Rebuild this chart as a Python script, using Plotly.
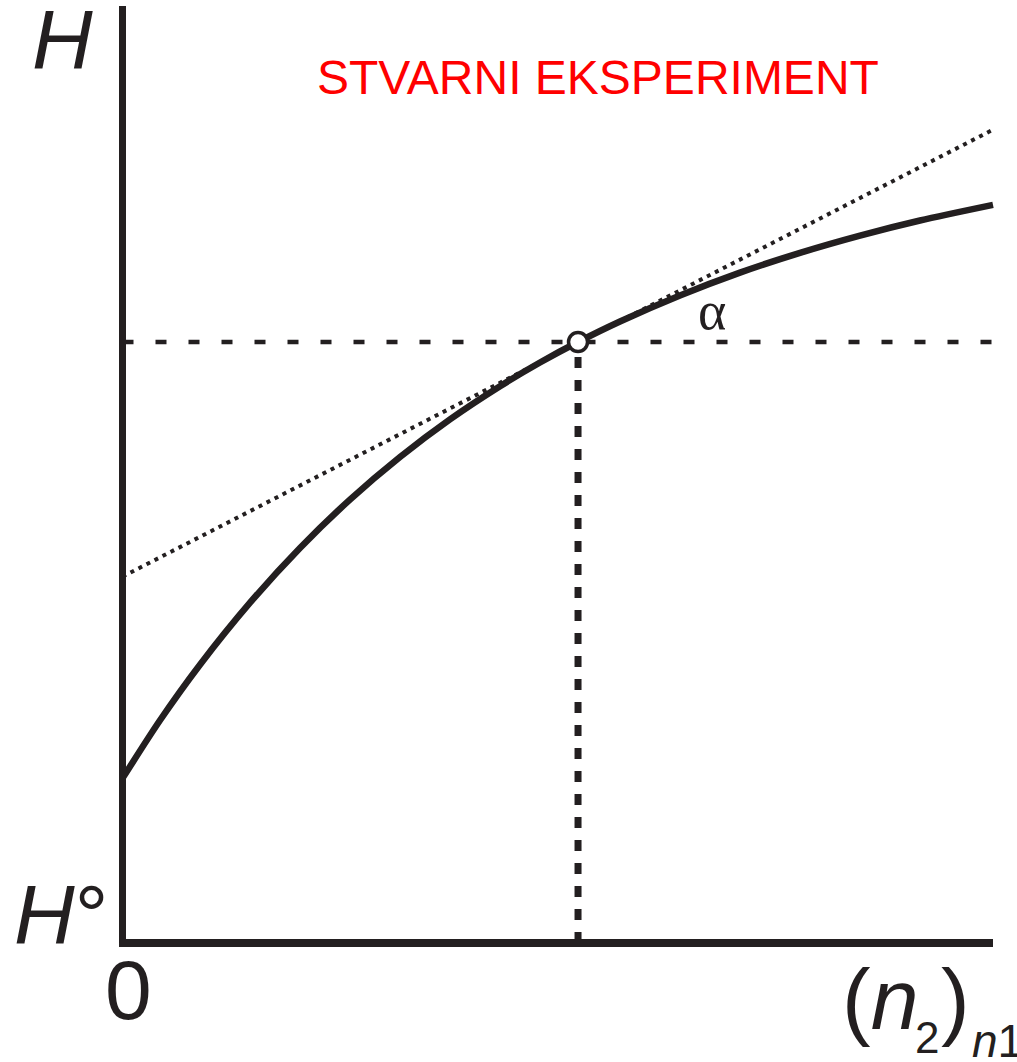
import plotly.graph_objects as go

# Enthalpy H versus amount of component 2, (n2) at constant n1
n2 = [0.0, 0.431, 0.890, 1.465, 2.039, 2.613, 3.188, 3.762, 4.337, 4.796,
      5.233, 5.715, 6.404, 7.093, 7.783, 8.472, 9.161, 10.0]
H = [1.757, 2.377, 2.970, 3.632, 4.216, 4.732, 5.187, 5.588, 5.942, 6.195,
     6.414, 6.633, 6.911, 7.155, 7.366, 7.550, 7.711, 7.878]

# tangent to the curve at the chosen composition
tangent_x = [0.0, 10.0]
tangent_y = [3.91, 8.68]

# chosen composition point
point_x = 5.233
point_y = 6.414

x_max = 10.0
y_max = 10.0

INK = "#231f20"
SANS = "Arial, Liberation Sans, sans-serif"
SERIF = "Times New Roman, Liberation Serif, serif"

fig = go.Figure()

# tangent (dotted)
fig.add_trace(go.Scatter(
    x=tangent_x, y=tangent_y, mode="lines",
    line=dict(color=INK, width=4, dash="4px,5px"),
    hoverinfo="skip", showlegend=False,
))

# horizontal guide at the point's H value
fig.add_trace(go.Scatter(
    x=[0, x_max], y=[point_y, point_y], mode="lines",
    line=dict(color=INK, width=4.5, dash="11px,22px"),
    hoverinfo="skip", showlegend=False,
))

# vertical guide down to the n2 axis
fig.add_trace(go.Scatter(
    x=[point_x, point_x], y=[0, point_y], mode="lines",
    line=dict(color=INK, width=7, dash="11px,12px"),
    hoverinfo="skip", showlegend=False,
))

# measured H curve
fig.add_trace(go.Scatter(
    x=n2, y=H, mode="lines",
    line=dict(color=INK, width=6.5, shape="spline", smoothing=0.8),
    hoverinfo="skip", showlegend=False,
))

# axes drawn as heavy lines
fig.add_trace(go.Scatter(
    x=[0, 0], y=[0, y_max], mode="lines",
    line=dict(color=INK, width=7),
    hoverinfo="skip", showlegend=False,
))
fig.add_trace(go.Scatter(
    x=[-0.04, x_max], y=[0, 0], mode="lines",
    line=dict(color=INK, width=8),
    hoverinfo="skip", showlegend=False,
))

# open circle at the tangent point
fig.add_trace(go.Scatter(
    x=[point_x], y=[point_y], mode="markers",
    marker=dict(size=19, color="white", line=dict(color=INK, width=3.5)),
    hoverinfo="skip", showlegend=False,
))

# pixel geometry: x=0 at 122.5 px, x=10 at 993 px; y=0 at 943 px, y=10 at 6 px
sx = (993 - 122.5) / x_max
sy = (943 - 6) / y_max
x_range = [-122.5 / sx, (1017 - 122.5) / sx]
y_range = [-(1062 - 943) / sy, 943 / sy]


def px(xp, yp):
    return (xp - 122.5) / sx, (943 - yp) / sy


annotations = []


def label(text, xp, yp, size, family=SANS, color=INK, xanchor="center"):
    x, y = px(xp, yp)
    annotations.append(dict(
        x=x, y=y, xref="x", yref="y", text=text, showarrow=False,
        font=dict(size=size, family=family, color=color),
        xanchor=xanchor, yanchor="middle",
    ))


label("<i>H</i>", 62, 40, 84)
label("<i>H</i>°", 61, 915, 84)
label("0", 128, 990, 84)

# x-axis title (n2)_n1 assembled from its parts
label("(<i>n</i>", 840, 999, 86, xanchor="left")
label("2", 913, 1037, 44, xanchor="left")
label(")", 939, 999, 86, xanchor="left")
label("<i>n</i>1", 970, 1041, 46, xanchor="left")

label("STVARNI EKSPERIMENT", 597.5, 77, 48, color="#ff0000")
label("α", 712, 311, 54, family=SERIF)

fig.update_layout(
    width=1017, height=1062,
    margin=dict(l=0, r=0, t=0, b=0),
    paper_bgcolor="white", plot_bgcolor="white",
    xaxis=dict(range=x_range, visible=False, fixedrange=True),
    yaxis=dict(range=y_range, visible=False, fixedrange=True),
    annotations=annotations,
    showlegend=False,
)

fig.write_html("out.html")
